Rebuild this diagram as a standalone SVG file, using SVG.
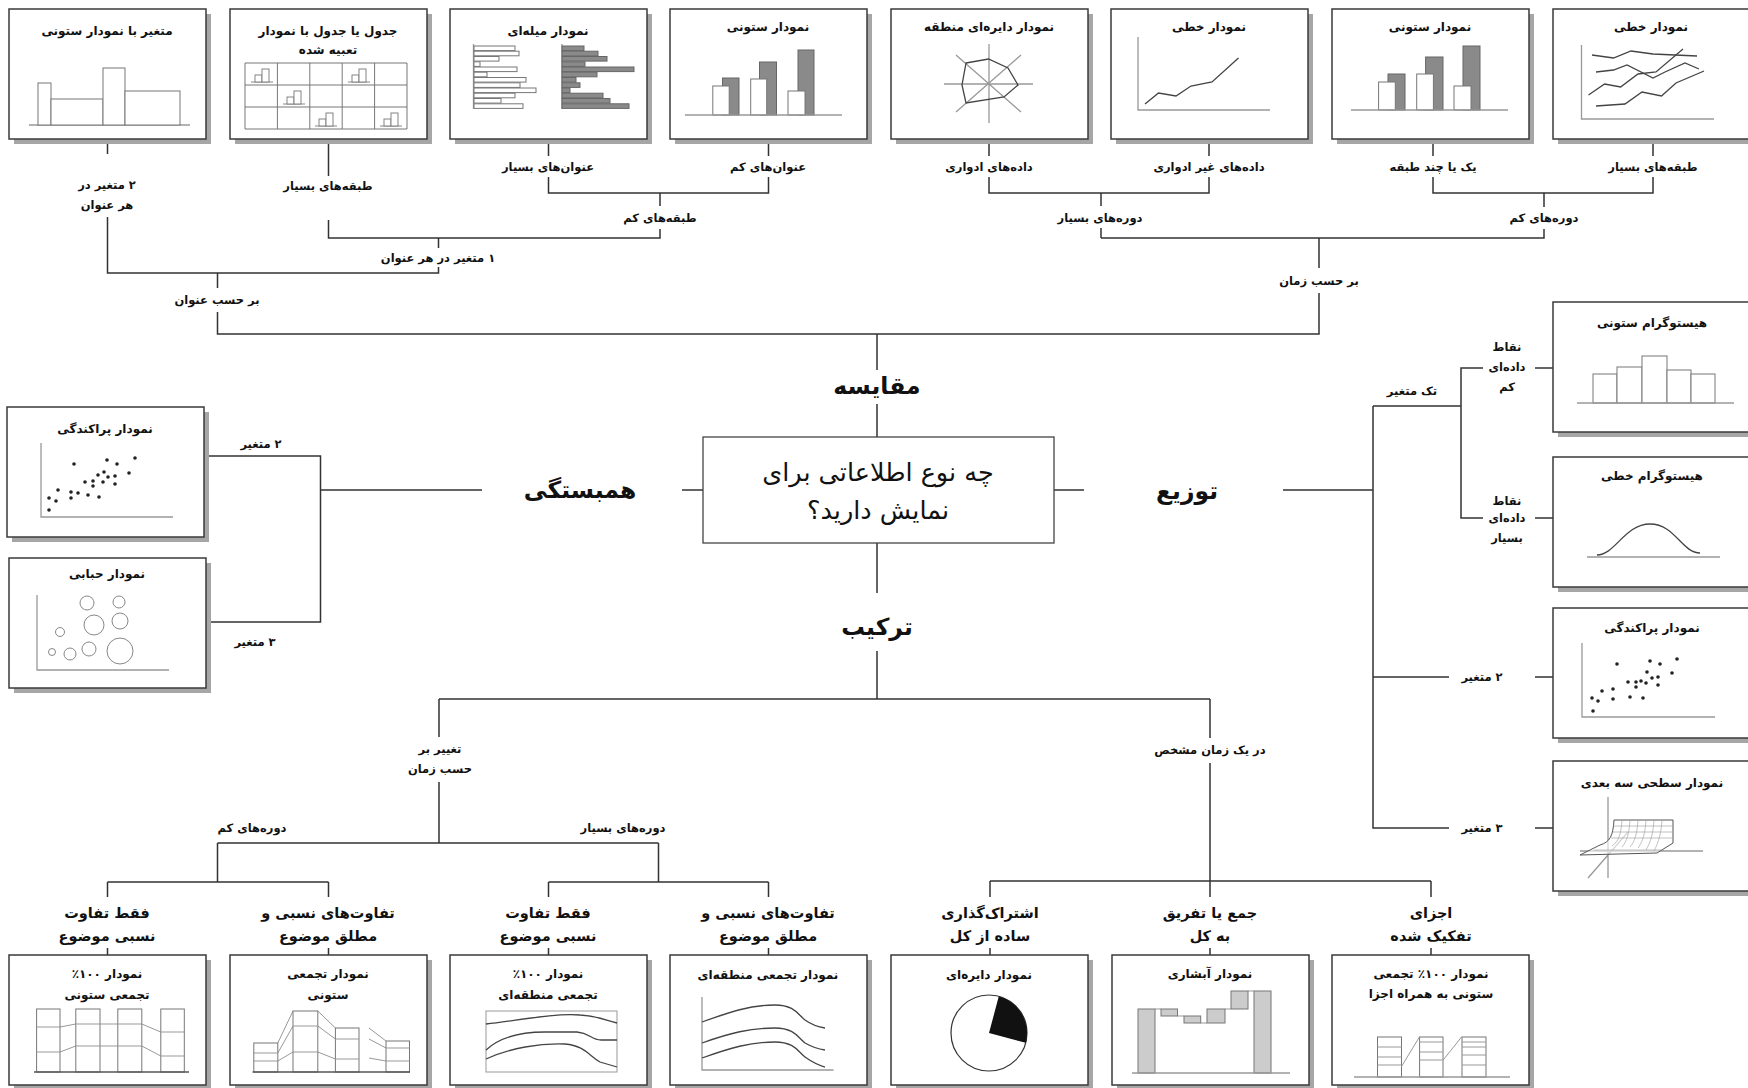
<svg xmlns="http://www.w3.org/2000/svg" xmlns:xlink="http://www.w3.org/1999/xlink" width="1748" height="1088" viewBox="0 0 1748 1088">
<style>
text{font-family:"DejaVu Sans","Noto Sans",sans-serif;fill:#111;text-anchor:middle;direction:rtl;font-weight:bold}
.tt{font-size:12px}
.lb{font-size:11.5px}
.lb2{font-size:14.5px}
.big{font-size:23.5px}
.ctr{font-size:25.5px;font-weight:normal}
.sh{fill:#a6a6a6}
.box{fill:#fff;stroke:#3a3a3a;stroke-width:1.5}
.cbox{fill:#fff;stroke:#444;stroke-width:1.3}
.ax{stroke:#999;stroke-width:1.3;fill:none}
.bw{fill:#fff;stroke:#777;stroke-width:1}
.bg{fill:#8a8a8a;stroke:#666;stroke-width:1}
.bl{fill:#ccc;stroke:#777;stroke-width:1}
.dl{stroke:#444;stroke-width:1.3;fill:none}
.gl{stroke:#999;stroke-width:1;fill:none}
.con path{stroke:#333;stroke-width:1.5;fill:none}
.dot{fill:#222}
</style>
<defs>
<g id="mini">
<path d="M4,19 H26" stroke="#888" stroke-width="1" fill="none"/>
<rect x="8" y="12" width="7" height="7" fill="#fff" stroke="#777" stroke-width="0.9"/>
<rect x="15" y="6" width="7" height="13" fill="#fff" stroke="#777" stroke-width="0.9"/>
</g>
</defs>
<rect width="1748" height="1088" fill="#fff"/>

<!-- connectors -->
<g id="connectors" class="con">
<path d="M107.5,139 V154 M107.5,217 V273 H438.5 V267 M438.5,248 V238"/>
<path d="M328.5,139 V176 M328.5,220 V238 H660 V229 M660,206 V193"/>
<path d="M548.5,139 V156 M548.5,177 V193 H768.5 V177 M768.5,156 V139"/>
<path d="M217.5,273 V288 M217.5,312 V334 H1319 V293 M1319,268 V238 M1101,238 H1544 V229 M1544,207 V193 M1101,238 V228 M1101,206 V193"/>
<path d="M989,139 V156 M989,177 V193 H1209 V177 M1209,156 V139"/>
<path d="M1433,139 V156 M1433,177 V193 H1653 V177 M1653,156 V139"/>
<path d="M877,334 V370 M877,404 V437 M877,543 V593 M877,651 V699"/>
<path d="M703,490 H682 M482,490 H320.5 M204,456 H320.5 V622 H205"/>
<path d="M1054,490 H1084 M1283,490 H1373 M1373,406 V828 H1449 M1373,406 H1461 V368 H1483 M1461,406 V518 H1483 M1535,368 H1553 M1535,518 H1553 M1373,677 H1449 M1535,677 H1553 M1535,828 H1553"/>
<path d="M439,699 H1210 M439,699 V737 M439,782 V843 M217.5,843 H658.5 M217.5,843 V882 M107.5,882 H328.5 M658.5,843 V882 M548.5,882 H768.5"/>
<path d="M107.5,882 V897 M107.5,948 V955 M328.5,882 V897 M328.5,948 V955 M548.5,882 V897 M548.5,948 V955 M768.5,882 V897 M768.5,948 V955"/>
<path d="M1210,699 V738 M1210,763 V897 M990,881 H1431 M990,881 V897 M1431,881 V897 M990,948 V955 M1210,948 V955 M1431,948 V955"/>
</g>

<!-- connector labels -->
<g id="labels">
<text class="lb" x="107" y="189">۲ متغیر در</text>
<text class="lb" x="107" y="209">هر عنوان</text>
<text class="lb" x="328" y="190">طبقه&#8204;های بسیار</text>
<text class="lb" x="548" y="171">عنوان&#8204;های بسیار</text>
<text class="lb" x="768" y="171">عنوان&#8204;های کم</text>
<text class="lb" x="989" y="171">داده&#8204;های ادواری</text>
<text class="lb" x="1209" y="171">داده&#8204;های غیر ادواری</text>
<text class="lb" x="1433" y="171">یک یا چند طبقه</text>
<text class="lb" x="1653" y="171">طبقه&#8204;های بسیار</text>
<text class="lb" x="660" y="222">طبقه&#8204;های کم</text>
<text class="lb" x="438" y="262">۱ متغیر در هر عنوان</text>
<text class="lb" x="217" y="304">بر حسب عنوان</text>
<text class="lb" x="1100" y="222">دوره&#8204;های بسیار</text>
<text class="lb" x="1544" y="222">دوره&#8204;های کم</text>
<text class="lb" x="1319" y="285">بر حسب زمان</text>
<text class="big" x="877" y="394">مقایسه</text>
<text class="big" x="877" y="635">ترکیب</text>
<text class="big" x="580" y="498">همبستگی</text>
<text class="big" x="1187" y="499">توزیع</text>
<text class="lb" x="261" y="448">۲ متغیر</text>
<text class="lb" x="255" y="646">۳ متغیر</text>
<text class="lb" x="1412" y="395">تک متغیر</text>
<text class="lb" x="1507" y="351">نقاط</text>
<text class="lb" x="1507" y="371">داده&#8204;ای</text>
<text class="lb" x="1507" y="391">کم</text>
<text class="lb" x="1507" y="505">نقاط</text>
<text class="lb" x="1507" y="522">داده&#8204;ای</text>
<text class="lb" x="1507" y="542">بسیار</text>
<text class="lb" x="1482" y="681">۲ متغیر</text>
<text class="lb" x="1482" y="832">۳ متغیر</text>
<text class="lb" x="440" y="753">تغییر بر</text>
<text class="lb" x="440" y="773">حسب زمان</text>
<text class="lb" x="1210" y="754">در یک زمان مشخص</text>
<text class="lb" x="252" y="832">دوره&#8204;های کم</text>
<text class="lb" x="623" y="832">دوره&#8204;های بسیار</text>
<text class="lb2" x="107" y="918">فقط تفاوت</text>
<text class="lb2" x="107" y="941">نسبی موضوع</text>
<text class="lb2" x="328" y="918">تفاوت&#8204;های نسبی و</text>
<text class="lb2" x="328" y="941">مطلق موضوع</text>
<text class="lb2" x="548" y="918">فقط تفاوت</text>
<text class="lb2" x="548" y="941">نسبی موضوع</text>
<text class="lb2" x="768" y="918">تفاوت&#8204;های نسبی و</text>
<text class="lb2" x="768" y="941">مطلق موضوع</text>
<text class="lb2" x="990" y="918">اشتراک&#8204;گذاری</text>
<text class="lb2" x="990" y="941">ساده از کل</text>
<text class="lb2" x="1210" y="918">جمع یا تفریق</text>
<text class="lb2" x="1210" y="941">به کل</text>
<text class="lb2" x="1431" y="918">اجزای</text>
<text class="lb2" x="1431" y="941">تفکیک شده</text>
</g>

<!-- center -->
<g id="center">
<rect class="cbox" x="703" y="437" width="351" height="106"/>
<text class="ctr" x="878" y="481">چه نوع اطلاعاتی برای</text>
<text class="ctr" x="878" y="519">نمایش دارید؟</text>
</g>

<!-- top row -->
<g id="top1">
<rect class="sh" x="14" y="14" width="197" height="130"/><rect class="box" x="9" y="9" width="197" height="130"/>
<text class="tt" x="107" y="35">متغیر با نمودار ستونی</text>
<path class="ax" d="M29,125 H190"/>
<rect class="bw" x="38" y="83" width="13" height="42"/><rect class="bw" x="51" y="99" width="52" height="26"/><rect class="bw" x="103" y="68" width="22" height="57"/><rect class="bw" x="125" y="91" width="55" height="34"/>
</g>
<g id="top2">
<rect class="sh" x="235" y="14" width="197" height="130"/><rect class="box" x="230" y="9" width="197" height="130"/>
<text class="tt" x="328" y="35">جدول یا جدول با نمودار</text>
<text class="tt" x="328" y="54">تعبیه شده</text>
<path d="M245,63 H407 V129 H245 Z M245,85 H407 M245,107 H407 M277.4,63 V129 M309.8,63 V129 M342.2,63 V129 M374.6,63 V129" stroke="#777" stroke-width="1" fill="none"/>
<use href="#mini" x="247" y="63"/><use href="#mini" x="344" y="63"/><use href="#mini" x="279" y="85"/><use href="#mini" x="311" y="107"/><use href="#mini" x="376" y="107"/>
</g>
<g id="top3">
<rect class="sh" x="455" y="14" width="197" height="130"/><rect class="box" x="450" y="9" width="197" height="130"/>
<text class="tt" x="548" y="35">نمودار میله&#8204;ای</text>
<path class="ax" d="M473.5,44 V109 M562,44 V109"/>
<g class="bw">
<rect x="474" y="46" width="41" height="4.6"/><rect x="474" y="51.2" width="45" height="4.6"/><rect x="474" y="56.5" width="25" height="4.6"/><rect x="474" y="61.8" width="6" height="4.6"/><rect x="474" y="67" width="43" height="4.6"/><rect x="474" y="72.2" width="13" height="4.6"/><rect x="474" y="77.5" width="52" height="4.6"/><rect x="474" y="82.8" width="46" height="4.6"/><rect x="474" y="88" width="62" height="4.6"/><rect x="474" y="93.2" width="41" height="4.6"/><rect x="474" y="98.5" width="27" height="4.6"/><rect x="474" y="103.8" width="49" height="4.6"/>
</g>
<g class="bg">
<rect x="562" y="46" width="22" height="4.6"/><rect x="562" y="51.2" width="36" height="4.6"/><rect x="562" y="56.5" width="45" height="4.6"/><rect x="562" y="61.8" width="23" height="4.6"/><rect x="562" y="67" width="72" height="4.6"/><rect x="562" y="72.2" width="35" height="4.6"/><rect x="562" y="77.5" width="14" height="4.6"/><rect x="562" y="82.8" width="18" height="4.6"/><rect x="562" y="88" width="8" height="4.6"/><rect x="562" y="93.2" width="41" height="4.6"/><rect x="562" y="98.5" width="48" height="4.6"/><rect x="562" y="103.8" width="67" height="4.6"/>
</g>
</g>
<g id="top4">
<rect class="sh" x="675" y="14" width="197" height="130"/><rect class="box" x="670" y="9" width="197" height="130"/>
<text class="tt" x="768" y="31">نمودار ستونی</text>
<rect class="bg" x="722.5" y="78" width="16.5" height="37"/><rect class="bg" x="759.5" y="62" width="17" height="53"/><rect class="bg" x="798" y="50" width="16" height="65"/>
<rect class="bw" x="712.8" y="86" width="16.4" height="29"/><rect class="bw" x="750.7" y="79" width="16" height="36"/><rect class="bw" x="788" y="91" width="17" height="24"/>
<path class="ax" d="M685,115 H842"/>
</g>
<g id="top5">
<rect class="sh" x="896" y="14" width="197" height="130"/><rect class="box" x="891" y="9" width="197" height="130"/>
<text class="tt" x="989" y="31">نمودار دایره&#8204;ای منطقه</text>
<path class="ax" d="M944,84 H1033 M989,44 V123 M956,55 L1021,112 M956,112 L1021,55"/>
<path class="dl" d="M966,63 L988.5,59 L1008,68 L1018,85 L1004,97 L966,103 L962,85 Z"/>
</g>
<g id="top6">
<rect class="sh" x="1116" y="14" width="197" height="130"/><rect class="box" x="1111" y="9" width="197" height="130"/>
<text class="tt" x="1209" y="31">نمودار خطی</text>
<path class="ax" d="M1138,37 V110 H1270"/>
<path class="dl" d="M1145,104 L1158.5,93 L1176,96 L1191,86 L1212,82 L1238.5,58"/>
</g>
<g id="top7">
<rect class="sh" x="1337" y="14" width="197" height="130"/><rect class="box" x="1332" y="9" width="197" height="130"/>
<text class="tt" x="1430" y="31">نمودار ستونی</text>
<rect class="bg" x="1388" y="74" width="17" height="36"/><rect class="bg" x="1425.6" y="57" width="17.4" height="53"/><rect class="bg" x="1463" y="46" width="17" height="64"/>
<rect class="bw" x="1378.6" y="82" width="16.7" height="28"/><rect class="bw" x="1416.7" y="74" width="16.7" height="36"/><rect class="bw" x="1454" y="86" width="17" height="24"/>
<path class="ax" d="M1351,110 H1508"/>
</g>
<g id="top8">
<rect class="sh" x="1558" y="14" width="197" height="130"/><rect class="box" x="1553" y="9" width="197" height="130"/>
<text class="tt" x="1651" y="31">نمودار خطی</text>
<path class="ax" d="M1581.5,45 V119 H1714"/>
<path class="dl" d="M1592,55 L1613.5,58 L1631,51 L1653,54 L1697,56"/>
<path class="dl" d="M1596,72 L1613.5,70 L1627,65 L1653,78 L1665,72 L1685,63 L1699,69"/>
<path class="dl" d="M1588.5,95 L1604.6,84 L1620.6,87 L1638,74 L1656,72 L1683,49"/>
<path class="dl" d="M1596,106 L1625,104 L1642,92 L1661.5,96 L1676,83 L1704,71"/>
</g>

<!-- left -->
<g id="scatterLeft">
<rect class="sh" x="12" y="412" width="197" height="130"/><rect class="box" x="7" y="407" width="197" height="130"/>
<text class="tt" x="105" y="433">نمودار پراکندگی</text>
<path class="ax" d="M41,443 V517 H173"/>
<g class="dot">
<circle cx="135" cy="458" r="1.8"/><circle cx="74" cy="464" r="1.8"/><circle cx="107" cy="460" r="1.8"/><circle cx="117" cy="464" r="1.8"/><circle cx="129" cy="473" r="1.8"/><circle cx="104" cy="472" r="1.8"/><circle cx="98" cy="475" r="1.8"/><circle cx="108" cy="477" r="1.8"/><circle cx="115" cy="476" r="1.8"/><circle cx="85" cy="482" r="1.8"/><circle cx="93" cy="481" r="1.8"/><circle cx="103" cy="482" r="1.8"/><circle cx="115" cy="484" r="1.8"/><circle cx="93" cy="486" r="1.8"/><circle cx="58" cy="490" r="1.8"/><circle cx="71" cy="492" r="1.8"/><circle cx="78" cy="493" r="1.8"/><circle cx="88" cy="495" r="1.8"/><circle cx="99" cy="497" r="1.8"/><circle cx="49" cy="498" r="1.8"/><circle cx="56" cy="501" r="1.8"/><circle cx="71" cy="498" r="1.8"/><circle cx="49" cy="510" r="1.8"/>
</g>
</g>
<g id="bubble">
<rect class="sh" x="14" y="563" width="197" height="130"/><rect class="box" x="9" y="558" width="197" height="130"/>
<text class="tt" x="107" y="578">نمودار حبابی</text>
<path class="ax" d="M37,595 V670 H169"/>
<g fill="none" stroke="#888" stroke-width="1">
<circle cx="87" cy="603" r="7"/><circle cx="119" cy="602" r="6"/><circle cx="94" cy="625" r="10"/><circle cx="120" cy="621" r="8"/><circle cx="60" cy="632" r="4.5"/><circle cx="52" cy="652" r="3.5"/><circle cx="70" cy="654" r="6"/><circle cx="89" cy="649" r="7"/><circle cx="120" cy="651" r="13"/>
</g>
</g>

<!-- right -->
<g id="histCol">
<rect class="sh" x="1558" y="307" width="197" height="130"/><rect class="box" x="1553" y="302" width="197" height="130"/>
<text class="tt" x="1652" y="327">هیستوگرام ستونی</text>
<rect class="bw" x="1593" y="374" width="24" height="29"/><rect class="bw" x="1617" y="367" width="25" height="36"/><rect class="bw" x="1642" y="356" width="25" height="47"/><rect class="bw" x="1667" y="370" width="24" height="33"/><rect class="bw" x="1691" y="374" width="24" height="29"/>
<path class="ax" d="M1577,403 H1734"/>
</g>
<g id="histLine">
<rect class="sh" x="1558" y="462" width="197" height="130"/><rect class="box" x="1553" y="457" width="197" height="130"/>
<text class="tt" x="1652" y="480">هیستوگرام خطی</text>
<path class="ax" d="M1587,557 H1720"/>
<path class="dl" d="M1597,555 C1615,555 1625,524 1650,524 C1675,524 1682,553 1700,553"/>
</g>
<g id="scatterRight">
<rect class="sh" x="1558" y="613" width="197" height="130"/><rect class="box" x="1553" y="608" width="197" height="130"/>
<text class="tt" x="1652" y="632">نمودار پراکندگی</text>
<path class="ax" d="M1582,643 V717 H1715"/>
<g class="dot">
<circle cx="1677" cy="659" r="1.8"/><circle cx="1650" cy="661" r="1.8"/><circle cx="1660" cy="664" r="1.8"/><circle cx="1617" cy="664" r="1.8"/><circle cx="1647" cy="672" r="1.8"/><circle cx="1672" cy="673" r="1.8"/><circle cx="1658" cy="677" r="1.8"/><circle cx="1652" cy="678" r="1.8"/><circle cx="1641" cy="681" r="1.8"/><circle cx="1636" cy="682" r="1.8"/><circle cx="1628" cy="682" r="1.8"/><circle cx="1646" cy="683" r="1.8"/><circle cx="1658" cy="685" r="1.8"/><circle cx="1636" cy="687" r="1.8"/><circle cx="1613" cy="689" r="1.8"/><circle cx="1602" cy="691" r="1.8"/><circle cx="1630" cy="697" r="1.8"/><circle cx="1592" cy="698" r="1.8"/><circle cx="1598" cy="701" r="1.8"/><circle cx="1613" cy="699" r="1.8"/><circle cx="1643" cy="698" r="1.8"/><circle cx="1593" cy="711" r="1.8"/>
</g>
</g>
<g id="surface">
<rect class="sh" x="1558" y="766" width="197" height="130"/><rect class="box" x="1553" y="761" width="197" height="130"/>
<text class="tt" x="1652" y="787">نمودار سطحی سه بعدی</text>
<path class="ax" d="M1608,797 V878 M1580,851 H1703 M1588,878 L1628,832" stroke-width="1"/>
<path d="M1580,855 L1657,853 L1673,843 L1673,820 L1614,820 C1613,836 1610,842 1600,845 Z" fill="#fff" fill-opacity="0.6" stroke="#555" stroke-width="1"/>
<path d="M1622,820 C1621,834 1619,841 1612,846 M1630,820 C1629,834 1627,841 1622,847 M1638,820 C1637,834 1635,841 1630,847 M1646,820 C1645,834 1643,841 1638,848 M1654,820 C1653,834 1651,841 1646,850 M1662,820 C1661,834 1659,841 1654,851 M1614,826 H1673 M1613,832 H1673 M1611,838 H1673 M1594,850 H1664" stroke="#999" stroke-width="0.6" fill="none"/>
</g>

<!-- bottom row -->
<g id="bot1">
<rect class="sh" x="14" y="960" width="197" height="130"/><rect class="box" x="9" y="955" width="197" height="130"/>
<text class="tt" x="107" y="978">نمودار ۱۰۰٪</text>
<text class="tt" x="107" y="999">تجمعی ستونی</text>
<path class="gl" d="M60,1027 L75.8,1024 M100,1024 L117.8,1024 M141.8,1024 L160.8,1032 M60,1052 L75.8,1046 M100,1046 L117.8,1046 M141.8,1046 L160.8,1056"/>
<rect class="bw" x="36.6" y="1009" width="23.4" height="63" stroke="#555"/><rect class="bw" x="75.8" y="1009" width="24.2" height="63" stroke="#555"/><rect class="bw" x="117.8" y="1009" width="24" height="63" stroke="#555"/><rect class="bw" x="160.8" y="1009" width="23.5" height="63" stroke="#555"/>
<path class="gl" d="M36.6,1027 H60 M36.6,1052 H60 M75.8,1024 H100 M75.8,1046 H100 M117.8,1024 H141.8 M117.8,1046 H141.8 M160.8,1032 H184.3 M160.8,1056 H184.3"/>
<path d="M34,1072 H189" stroke="#555" stroke-width="1.3"/>
</g>
<g id="bot2">
<rect class="sh" x="235" y="960" width="197" height="130"/><rect class="box" x="230" y="955" width="197" height="130"/>
<text class="tt" x="328" y="978">نمودار تجمعی</text>
<text class="tt" x="328" y="999">ستونی</text>
<path class="gl" d="M277.8,1043 L293,1011 M277.8,1053 L293,1026 M277.8,1061 L293,1052 M317.8,1011 L335.4,1028 M317.8,1026 L335.4,1039 M317.8,1052 L335.4,1059 M369,1028 L386,1041 M369,1039 L386,1048 M369,1058 L386,1061"/>
<rect class="bw" x="253.8" y="1043" width="24" height="29" stroke="#555"/><rect class="bw" x="293" y="1011" width="24.8" height="61" stroke="#555"/><rect class="bw" x="335.4" y="1028" width="23.6" height="44" stroke="#555"/><rect class="bw" x="386" y="1041" width="23.5" height="31" stroke="#555"/>
<path class="gl" d="M253.8,1053 H277.8 M253.8,1061 H277.8 M293,1026 H317.8 M293,1052 H317.8 M335.4,1039 H359 M335.4,1059 H359 M386,1048 H409.5 M386,1061 H409.5"/>
<path d="M252.5,1072 H410" stroke="#555" stroke-width="1.3"/>
</g>
<g id="bot3">
<rect class="sh" x="455" y="960" width="197" height="130"/><rect class="box" x="450" y="955" width="197" height="130"/>
<text class="tt" x="548" y="978">نمودار ۱۰۰٪</text>
<text class="tt" x="548" y="999">تجمعی منطقه&#8204;ای</text>
<rect x="486" y="1011" width="131" height="61" fill="none" stroke="#999" stroke-width="1"/>
<path class="dl" d="M486,1024 C520,1020 555,1013 580,1015 C598,1016 605,1020 617,1023"/>
<path class="dl" d="M486,1050 C500,1037 520,1032 545,1032 L577,1032 C590,1033 591,1040 601,1040 L617,1040"/>
<path class="dl" d="M486,1059 C510,1048 540,1043 565,1044 C585,1046 588,1055 600,1062 L617,1067"/>
</g>
<g id="bot4">
<rect class="sh" x="675" y="960" width="197" height="130"/><rect class="box" x="670" y="955" width="197" height="130"/>
<text class="tt" x="768" y="979">نمودار تجمعی منطقه&#8204;ای</text>
<path class="ax" d="M702,997 V1070 H833.5"/>
<path class="dl" d="M702,1022 C730,1012 750,1005 775,1005 C795,1005 798,1015 805,1020 C812,1025 818,1027 825,1028"/>
<path class="dl" d="M702,1043 C730,1033 750,1028 775,1028 C795,1028 798,1038 805,1043 C812,1047 818,1049 825,1050"/>
<path class="dl" d="M702,1058 C730,1048 750,1042 775,1042 C795,1042 798,1052 805,1057 C812,1062 818,1065 825,1067"/>
</g>
<g id="bot5">
<rect class="sh" x="896" y="960" width="197" height="130"/><rect class="box" x="891" y="955" width="197" height="130"/>
<text class="tt" x="989" y="979">نمودار دایره&#8204;ای</text>
<circle cx="989" cy="1033" r="38" fill="#fff" stroke="#333" stroke-width="1.2"/>
<path d="M989,1033 L998.8,996.3 A38,38 0 0,1 1025.7,1042.8 Z" fill="#111"/>
</g>
<g id="bot6">
<rect class="sh" x="1117" y="960" width="197" height="130"/><rect class="box" x="1112" y="955" width="197" height="130"/>
<text class="tt" x="1210" y="978">نمودار آبشاری</text>
<path class="gl" d="M1155,1009 H1161 M1177.5,1016 H1184 M1200.7,1023 H1207 M1225,1009 H1231 M1248,991 H1254"/>
<rect class="bl" x="1138" y="1009" width="17" height="64"/><rect class="bl" x="1161" y="1009" width="16.5" height="7"/><rect class="bl" x="1184" y="1016" width="16.7" height="7"/><rect class="bl" x="1207" y="1009" width="18" height="14"/><rect class="bl" x="1231" y="991" width="17" height="18"/><rect class="bl" x="1254" y="991" width="17" height="82"/>
<path class="ax" d="M1132,1073 H1290"/>
</g>
<g id="bot7">
<rect class="sh" x="1337" y="960" width="197" height="130"/><rect class="box" x="1332" y="955" width="197" height="130"/>
<text class="tt" x="1431" y="978">نمودار ۱۰۰٪ تجمعی</text>
<text class="tt" x="1431" y="998">ستونی به همراه اجزا</text>
<rect x="1377.5" y="1065" width="24" height="12" fill="#c8c8c8"/><rect x="1419.6" y="1060" width="23.4" height="17" fill="#c8c8c8"/>
<rect class="bw" x="1377.5" y="1037" width="24" height="40" fill="none"/><rect class="bw" x="1419.6" y="1037" width="23.4" height="40" fill="none"/><rect class="bw" x="1462" y="1037" width="24" height="40"/>
<path class="gl" d="M1377.5,1047 H1401.5 M1377.5,1057 H1401.5 M1377.5,1065 H1401.5 M1419.6,1042 H1443 M1419.6,1052 H1443 M1419.6,1060 H1443 M1462,1042 H1486 M1462,1047 H1486 M1462,1055 H1486 M1462,1065 H1486 M1401.4,1066.7 L1419.6,1036.7 M1443.2,1060 L1461.8,1036.7"/>
<path class="ax" d="M1354,1077 H1510"/>
</g>
</svg>
